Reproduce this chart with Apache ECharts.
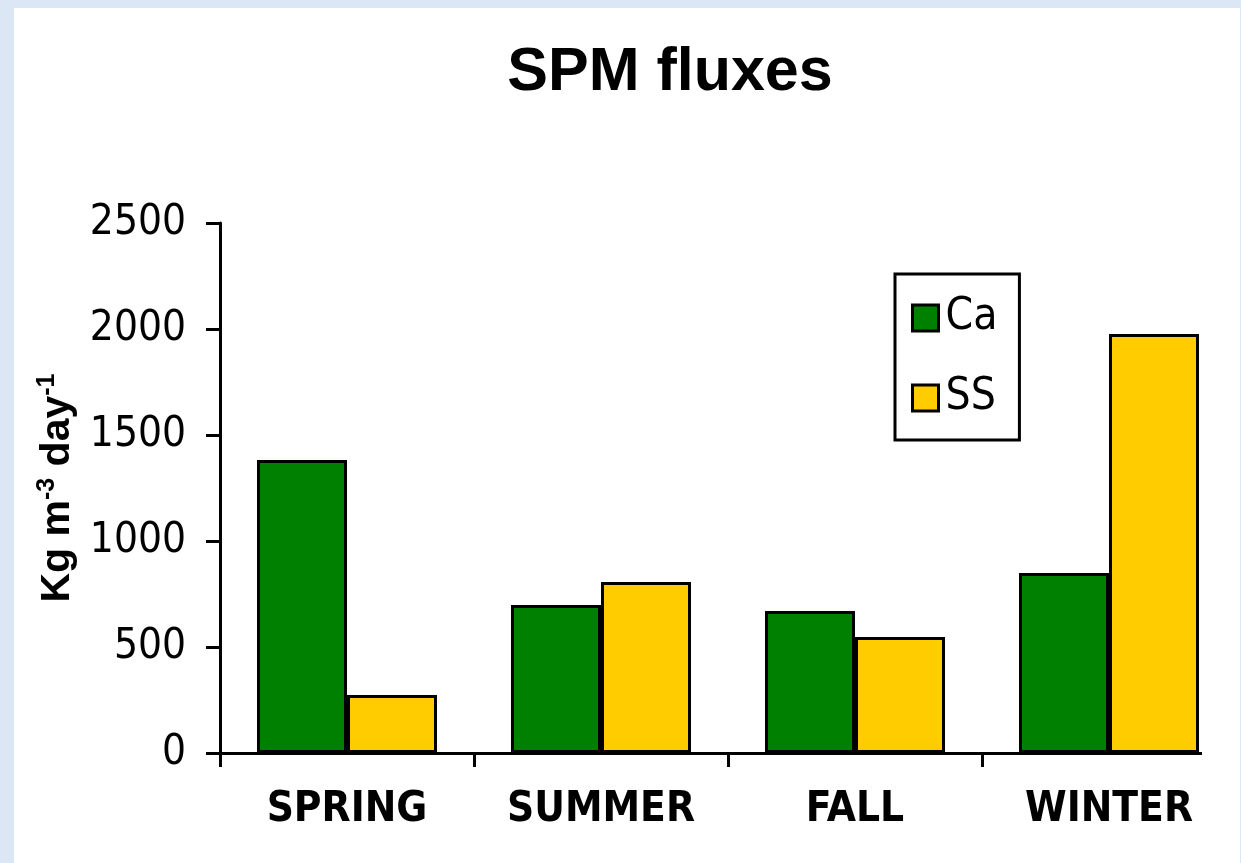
<!DOCTYPE html>
<html>
<head>
<meta charset="utf-8">
<script src="https://cdn.jsdelivr.net/npm/echarts@6/dist/echarts.min.js"></script>
<style>
  html, body { margin: 0; padding: 0; width: 1241px; height: 863px; overflow: hidden; background: #dbe7f4; }
  #panel { position: absolute; left: 14px; top: 8px; width: 1226px; height: 855px; background: #ffffff; }
  #clip { position: absolute; left: 0; top: 0; width: 1202px; height: 863px; overflow: hidden; }
  #chart { position: absolute; left: 0; top: 0; width: 1241px; height: 863px; }
</style>
</head>
<body>
<div id="panel"></div>
<div id="clip"><div id="chart"></div></div>
<script>
const categories = ['SPRING', 'SUMMER', 'FALL', 'WINTER'];
const caValues = [1382, 698, 670, 849];
const ssValues = [274, 807, 547, 1976];
const yTicks = [0, 500, 1000, 1500, 2000, 2500];

const narrow = '"Liberation Sans Narrow", "DejaVu Sans Condensed", "Liberation Sans", Arial, sans-serif';
const sans = '"Liberation Sans", Arial, sans-serif';

const chart = echarts.init(document.getElementById('chart'), null, { renderer: 'canvas' });
chart.setOption({
  backgroundColor: 'transparent',
  animation: false,
  title: {
    text: 'SPM fluxes',
    left: 665, top: 38, textAlign: 'center',
    textStyle: { fontFamily: sans, fontWeight: 'bold', fontSize: 61, color: '#000' }
  },
  legend: {
    orient: 'vertical',
    left: 895, top: 274,
    padding: [22, 22, 20, 16],
    itemGap: 36,
    itemWidth: 26, itemHeight: 26,
    borderColor: '#000', borderWidth: 3,
    backgroundColor: '#fff',
    icon: 'rect',
    itemStyle: { borderColor: '#000', borderWidth: 3 },
    textStyle: { fontFamily: narrow, fontSize: 44, color: '#000', padding: [0, 0, 0, 2] },
    data: ['Ca', 'SS']
  },
  grid: { left: 220, right: 5, top: 223, bottom: 110, containLabel: false },
  xAxis: {
    type: 'category',
    data: categories,
    axisLine: { lineStyle: { color: '#000', width: 3 } },
    axisTick: { show: true, length: 14, lineStyle: { color: '#000', width: 3 } },
    axisLabel: { margin: 36, fontFamily: narrow, fontWeight: 'bold', fontSize: 42, color: '#000' },
    splitLine: { show: false }
  },
  yAxis: {
    type: 'value',
    min: yTicks[0], max: yTicks[yTicks.length - 1], interval: 500,
    name: '{b|Kg m}{s|-3}{b| day}{s|-1}',
    nameLocation: 'middle',
    nameGap: 140,
    nameRotate: 90,
    nameTextStyle: {
      rich: {
        b: { fontFamily: sans, fontWeight: 'bold', fontSize: 41, color: '#000' },
        s: { fontFamily: sans, fontWeight: 'bold', fontSize: 25, color: '#000', padding: [0, 0, 20, 0] }
      }
    },
    axisLine: { show: true, lineStyle: { color: '#000', width: 3 } },
    axisTick: { show: true, length: 14, lineStyle: { color: '#000', width: 3 } },
    axisLabel: {
      margin: 34, fontFamily: narrow, fontSize: 42, color: '#000',
      formatter: function (v) { return String(v); }
    },
    splitLine: { show: false }
  },
  series: [
    {
      name: 'Ca', type: 'bar', data: caValues,
      barWidth: 90, barGap: '0%', barCategoryGap: '29%',
      itemStyle: { color: '#008000', borderColor: '#000', borderWidth: 3 }
    },
    {
      name: 'SS', type: 'bar', data: ssValues,
      barWidth: 90, barGap: '0%', barCategoryGap: '29%',
      itemStyle: { color: '#ffcc00', borderColor: '#000', borderWidth: 3 }
    }
  ]
});
</script>
</body>
</html>
